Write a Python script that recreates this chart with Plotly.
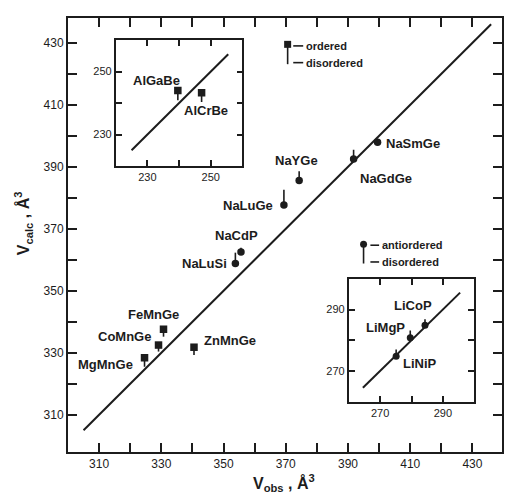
import plotly.graph_objects as go

# ---- data -------------------------------------------------------------
# main panel: observed vs calculated cell volumes (Å^3)
main_names = ["MgMnGe", "CoMnGe", "FeMnGe", "ZnMnGe", "NaLuSi",
              "NaCdP", "NaLuGe", "NaYGe", "NaGdGe", "NaSmGe"]
main_obs = [324.6, 329.1, 330.7, 340.5, 353.8, 355.6, 369.4, 374.3, 391.8, 399.5]
main_calc = [328.4, 332.5, 337.6, 331.8, 358.8, 362.5, 377.7, 385.6, 392.5, 397.9]
main_calc_dis = [325.5, 330.4, 335.2, 329.3, 362.3, 363.9, 382.6, 388.6, 395.5, 399.0]
main_kind = ["ordered"] * 4 + ["antiordered"] * 6

# upper-left inset
albe_names = ["AlGaBe", "AlCrBe"]
albe_obs = [239.6, 247.1]
albe_calc = [244.0, 243.3]
albe_calc_dis = [240.9, 240.3]

# lower-right inset
li_names = ["LiNiP", "LiMgP", "LiCoP"]
li_obs = [275.1, 279.6, 284.3]
li_calc = [274.8, 280.8, 284.9]
li_calc_dis = [277.0, 283.2, 286.8]

# extent of the V_calc = V_obs line in each panel
main_diag = [305, 436]
albe_diag = [225, 255.5]
li_diag = [264.5, 295.5]

main_ticks = list(range(310, 431, 10))
main_labels = list(range(310, 431, 20))
albe_ticks = [230, 240, 250]
albe_labels = [230, 250]
li_ticks = [270, 280, 290]
li_labels = [270, 290]

# ---- label placement (x, y, anchor) ------------------------------------
main_label_pos = {
    "MgMnGe": (321.4, 326.1, "right"),
    "CoMnGe": (327.2, 335.2, "right"),
    "FeMnGe": (327.4, 342.2, "center"),
    "ZnMnGe": (343.0, 334.1, "left"),
    "NaLuSi": (351.9, 358.8, "right"),
    "NaCdP": (354.0, 367.9, "center"),
    "NaLuGe": (366.5, 377.5, "right"),
    "NaYGe": (373.4, 392.0, "center"),
    "NaGdGe": (393.1, 386.1, "left"),
    "NaSmGe": (401.6, 397.4, "left"),
}
albe_label_pos = {"AlGaBe": (232.8, 247.2, "center"), "AlCrBe": (248.5, 237.7, "center")}
li_label_pos = {"LiNiP": (276.5, 272.4, "left"), "LiMgP": (278.5, 284.1, "right"),
                "LiCoP": (280.4, 291.2, "center")}

INK = "#1c1c1c"
FONT = "Liberation Sans"

fig = go.Figure()


def add_panel(xa, ya, obs, calc, dis, kinds, diag, msize):
    # stems from the ordered/antiordered value to the disordered one
    sx, sy = [], []
    for o, c, d in zip(obs, calc, dis):
        sx += [o, o, None]
        sy += [c, d, None]
    fig.add_trace(go.Scatter(x=diag, y=diag, mode="lines", xaxis=xa, yaxis=ya,
                             line=dict(color=INK, width=2), hoverinfo="skip"))
    fig.add_trace(go.Scatter(x=sx, y=sy, mode="lines", xaxis=xa, yaxis=ya,
                             line=dict(color=INK, width=1.6), hoverinfo="skip"))
    symbols = ["square" if k == "ordered" else "circle" for k in kinds]
    fig.add_trace(go.Scatter(x=obs, y=calc, mode="markers", xaxis=xa, yaxis=ya,
                             marker=dict(symbol=symbols, size=msize, color=INK,
                                         line=dict(width=0))))


add_panel("x", "y", main_obs, main_calc, main_calc_dis, main_kind, main_diag, 7.5)
add_panel("x2", "y2", albe_obs, albe_calc, albe_calc_dis, ["ordered"] * 2, albe_diag, 7.5)
add_panel("x3", "y3", li_obs, li_calc, li_calc_dis, ["antiordered"] * 3, li_diag, 7)

annotations = []


def add_labels(names, pos, xr, yr):
    for n in names:
        x, y, anc = pos[n]
        annotations.append(dict(x=x, y=y, xref=xr, yref=yr, text=n, showarrow=False,
                                xanchor=anc, yanchor="middle",
                                font=dict(family=FONT, size=13, color=INK, weight="bold")))


add_labels(main_names, main_label_pos, "x", "y")
add_labels(albe_names, albe_label_pos, "x2", "y2")
add_labels(li_names, li_label_pos, "x3", "y3")

# key: square = ordered, circle = antiordered, stem end = disordered
key_items = [
    ("square", 370.6, 429.5, 423.1, ["ordered", "disordered"], [429.0, 423.6], 372.4, 375.6),
    ("circle", 395.0, 365.0, 358.8, ["antiordered", "disordered"], [364.7, 359.3], 397.2, 400.0),
]
for sym, kx, ky, kd, texts, ty, d0, d1 in key_items:
    fig.add_trace(go.Scatter(x=[kx, kx], y=[ky, kd], mode="lines",
                             line=dict(color=INK, width=1.6), hoverinfo="skip"))
    fig.add_trace(go.Scatter(x=[kx], y=[ky], mode="markers",
                             marker=dict(symbol=sym, size=7, color=INK)))
    for t, yy in zip(texts, ty):
        fig.add_trace(go.Scatter(x=[d0, d1], y=[yy, yy], mode="lines",
                                 line=dict(color=INK, width=1.6), hoverinfo="skip"))
        annotations.append(dict(x=d1 + 0.3, y=yy, xref="x", yref="y", text=t,
                                showarrow=False, xanchor="left", yanchor="middle",
                                font=dict(family=FONT, size=11, color=INK, weight="bold")))

# axis titles
annotations.append(dict(x=0.498, y=-0.072, xref="paper", yref="paper",
                        xanchor="center", yanchor="middle",
                        text="V<sub>obs</sub> , Å<sup>3</sup>", showarrow=False,
                        font=dict(family=FONT, size=16, color=INK, weight="bold")))
annotations.append(dict(x=-0.103, y=0.528, xref="paper", yref="paper",
                        xanchor="center", yanchor="middle",
                        text="V<sub>calc</sub> , Å<sup>3</sup>", showarrow=False, textangle=-90,
                        font=dict(family=FONT, size=16, color=INK, weight="bold")))


def axis(rng, ticks, labelled, domain, anchor, ticklen, fsize, lw):
    return dict(range=rng, domain=domain, anchor=anchor,
                tickmode="array", tickvals=labelled,
                ticks="inside", ticklen=ticklen, tickwidth=1.6, tickcolor=INK,
                minor=dict(tickmode="array", tickvals=ticks, ticks="inside",
                           ticklen=ticklen, tickwidth=1.6, tickcolor=INK, showgrid=False),
                showline=True, linecolor=INK, linewidth=lw, mirror="allticks",
                showgrid=False, zeroline=False,
                tickfont=dict(family=FONT, size=fsize, color=INK))


fig.update_layout(
    width=508, height=493,
    margin=dict(l=68, r=4, t=18, b=41),
    paper_bgcolor="white", plot_bgcolor="rgba(0,0,0,0)",
    showlegend=False,
    xaxis=axis([300, 439.5], main_ticks, main_labels, [0, 1], "y", 9, 12, 2),
    yaxis=axis([298, 438], main_ticks, main_labels, [0, 1], "x", 9, 12, 2),
    xaxis2=axis([220, 260], albe_ticks, albe_labels, [0.110, 0.402], "y2", 6, 11, 1.8),
    yaxis2=axis([220, 260], albe_ticks, albe_labels, [0.659, 0.949], "x2", 6, 11, 1.8),
    xaxis3=axis([260, 300], li_ticks, li_labels, [0.647, 0.936], "y3", 6, 11, 1.8),
    yaxis3=axis([260, 300], li_ticks, li_labels, [0.116, 0.399], "x3", 6, 11, 1.8),
    annotations=annotations,
)

fig.write_html("out.html")
